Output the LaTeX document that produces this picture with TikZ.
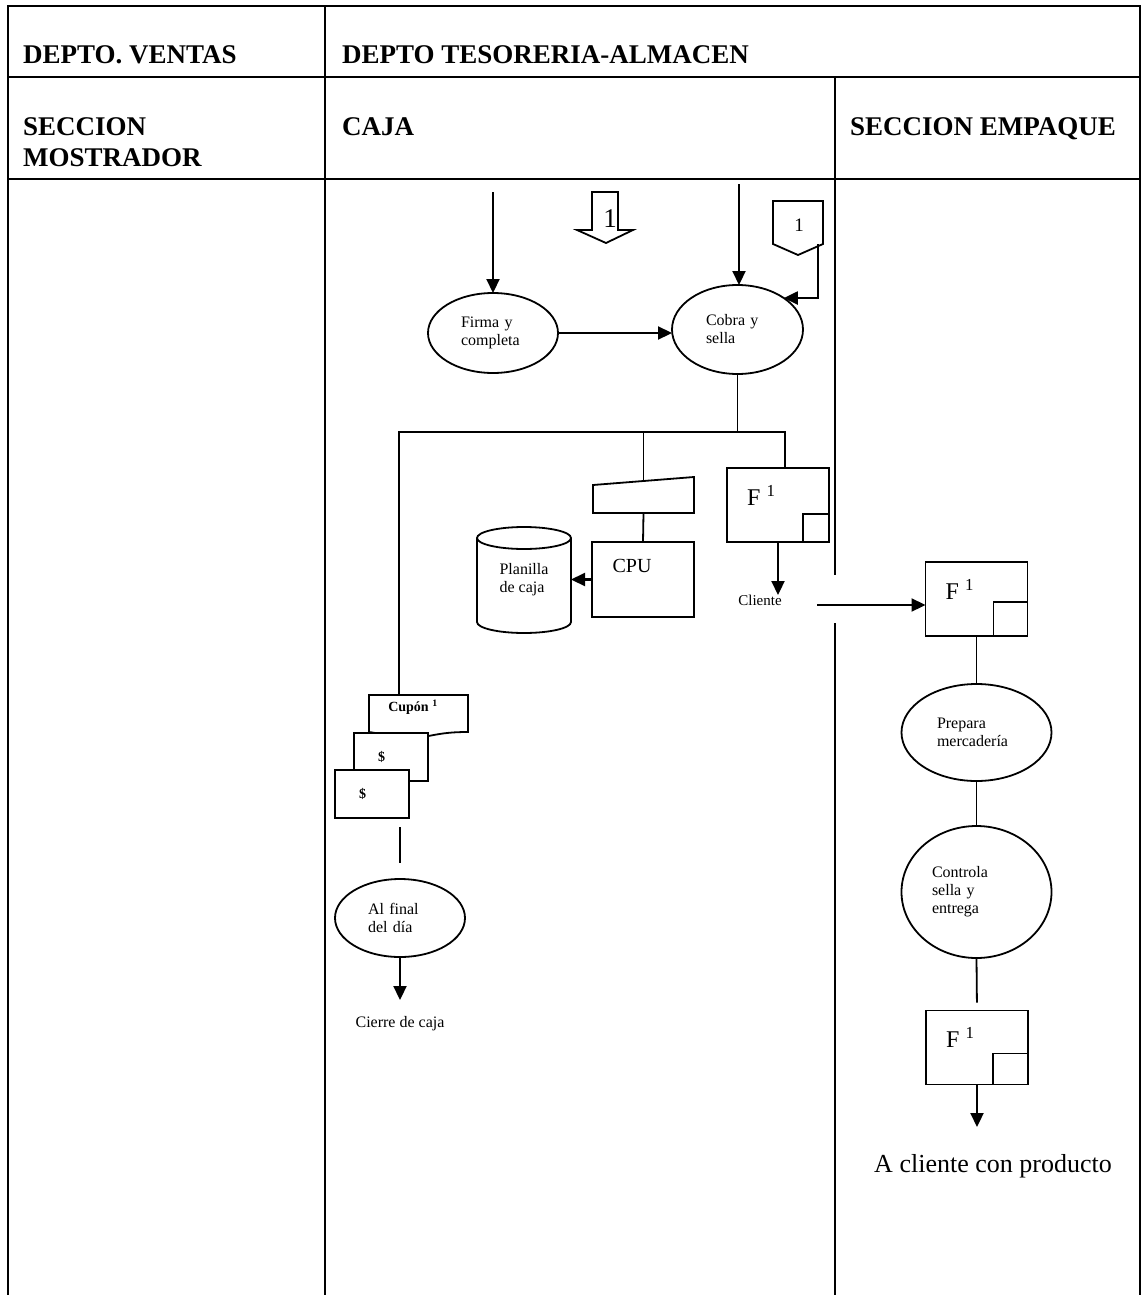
\documentclass[tikz,border=0pt]{standalone}
\usepackage{fontspec}
\setmainfont{Liberation Serif}
\usepackage{tikz}
\usetikzlibrary{calc}
\usetikzlibrary{positioning}
\usetikzlibrary{shapes.geometric}
\usetikzlibrary{arrows.meta}

\begin{document}
\begin{tikzpicture}[
     x=1pt, y=-1pt,
     lane/.style={line width=2.4pt},
     link/.style={line width=1.8pt},
     flow/.style={line width=2.2pt, -{Triangle[length=14pt, width=13pt]}},
     head/.style={font=\bfseries\fontsize{27}{31}\selectfont, inner sep=0pt, align=left, anchor=north west},
     note/.style={inner sep=0pt, font=\fontsize{16}{18}\selectfont},
     proc/.style={ellipse, draw, line width=1.8pt, inner sep=0pt, outer sep=0pt, align=left, font=\fontsize{16}{18}\selectfont},
     box/.style={rectangle, draw, line width=1.8pt, inner sep=0pt, outer sep=0pt},
     paybox/.style={rectangle, draw, fill=white, line width=1.8pt, outer sep=0pt, minimum height=48pt, inner xsep=24pt, text width=26pt, align=left, font=\bfseries\fontsize{14}{16}\selectfont}
 ]
 % form with the small square in its corner
 \newcommand{\formdoc}[4]{
     \node[box, minimum width=102pt, minimum height=74pt] (#1) at (#2) {};
     \node[inner sep=0pt, anchor=north west, font=\fontsize{24}{24}\selectfont] (#1txt) at ($(#1.north west)+(20,17)$) {F \textsuperscript{1}};
     \draw[link] (#1.south east) rectangle ++(-#3,-#4);
 }

 \useasboundingbox (0,0) rectangle (1142,1295);

 % lanes
 \draw[lane] (8,1295) -- (8,6) -- (1140,6) -- (1140,1295);
 \draw[lane] (8,77) -- (1140,77);
 \draw[lane] (8,179) -- (1140,179);
 \draw[lane] (325,6) -- (325,1295);
 \draw[lane] (835,77) -- (835,575);
 \draw[lane] (835,623) -- (835,1295);

 \node[head] (ventas) at (23,45) {DEPTO. VENTAS};
 \node[head] (tesoreria) at (342,45) {DEPTO TESORERIA-ALMACEN};
 \node[head] (mostrador) at (23,117) {SECCION\\MOSTRADOR};
 \node[head] (caja) at (342,117) {CAJA};
 \node[head] (empaque) at (850,117) {SECCION EMPAQUE};

 % caja
 \node[proc, text width=64pt, minimum width=130pt, minimum height=80pt] (firma) at (493,333) {Firma y\\completa};
 \node[proc, text width=63pt, minimum width=131pt, minimum height=89pt] (cobra) at (737.5,329.5) {Cobra y\\sella};
 \coordinate (firmain) at (493,192);
 \coordinate (cobrain) at (739,184);
 \draw[flow] (firmain) -- (firma.north);
 \draw[flow] (cobrain) -- (cobrain |- cobra.north);
 \draw[flow] (firma.east) -- (firma.east -| cobra.west);

 \draw[link] (592,192) -- (618,192) -- (618,230) -- (633,230) -- (606,243) -- (577,230) -- (592,230) -- cycle;
 \node[inner sep=0pt, font=\fontsize{27}{27}\selectfont] (flecha) at (610,219) {1};
 \draw[link] (773,201) -- (823,201) -- (823,244) -- (798,255) -- (773,244) -- cycle;
 \node[inner sep=0pt, font=\fontsize{19}{19}\selectfont] (conector) at (799,225) {1};
 \coordinate (conectorout) at (818,244);
 \draw[flow] (conectorout) |- (cobra.north east);

 \node[minimum width=101pt, minimum height=36pt, inner sep=0pt, outer sep=0pt] (teclado) at (643.5,495) {};
 \draw[link] (teclado.south west) -- (teclado.south east) -- (teclado.north east) -- ($(teclado.north west)+(0,8)$) -- cycle;
 \node[box, minimum width=102pt, minimum height=75pt] (cpu) at (643,579.5) {};
 \node[inner sep=0pt, font=\fontsize{20}{20}\selectfont] (cpulbl) at (632,566) {CPU};
 \draw[link] (teclado.south) -- (cpu.north);

 \node[minimum width=94pt, minimum height=106pt, inner sep=0pt, outer sep=0pt] (cilindro) at (524,580) {};
 \draw[link] ($(cilindro.north west)+(0,11)$) -- ($(cilindro.south west)+(0,-11)$) arc[start angle=180, end angle=360, x radius=47pt, y radius=11pt] -- ($(cilindro.north east)+(0,11)$);
 \draw[link] ($(cilindro.north)+(0,11)$) ellipse [x radius=47pt, y radius=11pt];
 \node[note, align=left] (planilla) at (cilindro.center) {Planilla\\de caja};
 \draw[flow] (cpu.west) -- (cpu.west -| cilindro.east);

 \formdoc{fcaja}{778,505}{26}{28}
 \node[note, font=\fontsize{15}{15}\selectfont, anchor=north] (cliente) at (760,595) {Cliente};
 \draw[flow] (fcaja.south) -- (fcaja.south |- cliente.north);

 % cupones
 \node[minimum width=99pt, minimum height=37pt, inner sep=0pt, outer sep=0pt] (cupon) at (418.5,713.5) {};
 \draw[link, fill=white] (cupon.south west) -- (cupon.north west) -- (cupon.north east) -- (cupon.south east) .. controls +(-20,0) and +(15,-3) .. ($(cupon.south)+(5,5)$) .. controls +(-15,3) and +(20,3) .. (cupon.south west);
 \node[inner sep=0pt, font=\bfseries\fontsize{14}{16}\selectfont] (cupontxt) at (413,707) {Cupón \textsuperscript{1}};
 \node[paybox] (pago1) at (391,757) {\$};
 \node[paybox] (pago2) at (372,794) {\$};

 \coordinate (bus) at (399,432);
 \coordinate (busr) at (785,432);
 \draw[link] (cobra.south) -- (cobra.south |- bus);
 \draw[link] (bus |- cupon.north) -- (bus) -- (busr) -- (busr |- fcaja.north);
 \draw[link] (teclado.north |- bus) -- ($(teclado.north)+(0,4)$);

 \node[proc, text width=64pt, minimum width=130pt, minimum height=78pt] (alfinal) at (400,918) {Al final\\del día};
 \draw[link, shorten <=9pt, shorten >=16pt] (pago2.south -| alfinal.north) -- (alfinal.north);
 \node[note, anchor=north] (cierre) at (400,1016) {Cierre de caja};
 \draw[flow, shorten >=16pt] (alfinal.south) -- (cierre.north);

 % empaque
 \formdoc{fempaque}{976.5,599}{34}{34}
 \coordinate (clienteout) at (817,605);
 \draw[flow] (clienteout) -- (clienteout -| fempaque.west);
 \node[proc, text width=79pt, minimum width=150pt, minimum height=97pt] (prepara) at (976.5,732.5) {Prepara\\mercadería};
 \node[proc, text width=89pt, minimum width=150pt, minimum height=132pt] (controla) at (976.5,892) {Controla\\sella y\\entrega};
 \formdoc{fentrega}{977,1047.5}{35}{31}
 \draw[link] (fempaque.south) -- (prepara.north);
 \draw[link] (prepara.south) -- (controla.north);
 \draw[link, shorten >=8pt] (controla.south) -- (fentrega.north);
 \node[note, font=\fontsize{26}{26}\selectfont, anchor=north] (acliente) at (993,1154) {A cliente con producto};
 \draw[flow, shorten >=27pt] (fentrega.south) -- (fentrega.south |- acliente.north);
\end{tikzpicture}
\end{document}
